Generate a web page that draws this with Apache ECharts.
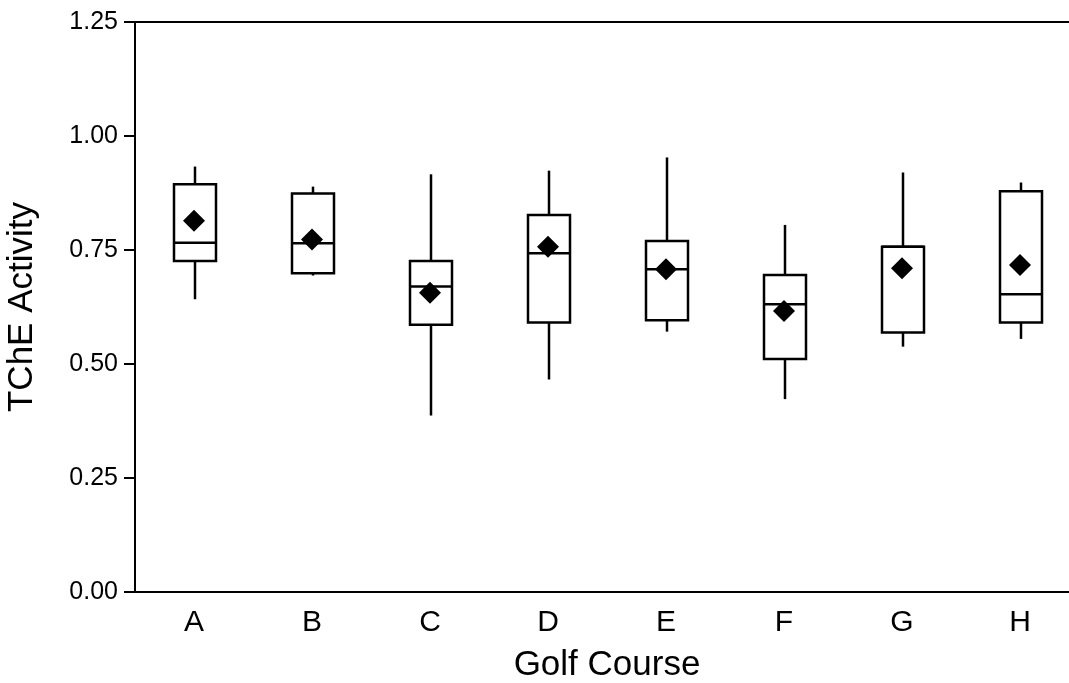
<!DOCTYPE html>
<html>
<head>
<meta charset="utf-8">
<style>
  html, body { margin: 0; padding: 0; background: #fff; }
  #chart { width: 1069px; height: 683px; }
</style>
<script src="https://cdn.jsdelivr.net/npm/echarts@6/dist/echarts.min.js"></script>
</head>
<body>
<div id="chart"></div>
<script>
// Golf course categories and TChE activity summary statistics
const categories   = ['A', 'B', 'C', 'D', 'E', 'F', 'G', 'H'];
const whiskerLow   = [0.642, 0.694, 0.387, 0.466, 0.571, 0.423, 0.538, 0.555];
const quartile1    = [0.726, 0.699, 0.586, 0.591, 0.596, 0.511, 0.569, 0.591];
const medians      = [0.766, 0.765, 0.670, 0.743, 0.708, 0.631, 0.757, 0.653];
const quartile3    = [0.894, 0.874, 0.726, 0.827, 0.770, 0.695, 0.757, 0.879];
const whiskerHigh  = [0.933, 0.889, 0.916, 0.924, 0.953, 0.805, 0.920, 0.898];
const means        = [0.814, 0.773, 0.656, 0.757, 0.708, 0.616, 0.710, 0.717];
const yTickValues  = [0, 0.25, 0.5, 0.75, 1.0, 1.25];

const boxData = categories.map((c, i) => [i, whiskerLow[i], quartile1[i], medians[i], quartile3[i], whiskerHigh[i]]);
const meanData = categories.map((c, i) => [i, means[i]]);

const FONT = 'Liberation Sans, Arial, Helvetica, sans-serif';
const INK = '#000';

function renderBox(params, api) {
  const x = api.value(0);
  const lo = api.coord([x, api.value(1)]);
  const b1 = api.coord([x, api.value(2)]);
  const md = api.coord([x, api.value(3)]);
  const b3 = api.coord([x, api.value(4)]);
  const hi = api.coord([x, api.value(5)]);
  const half = 21;
  const cx = Math.round(lo[0]) + 1;
  const style = { stroke: INK, lineWidth: 2.5, fill: null };
  return {
    type: 'group',
    children: [
      { type: 'line', shape: { x1: cx, y1: hi[1], x2: cx, y2: b3[1] }, style: style },
      { type: 'line', shape: { x1: cx, y1: b1[1], x2: cx, y2: lo[1] }, style: style },
      { type: 'rect', shape: { x: cx - half, y: b3[1], width: half * 2, height: b1[1] - b3[1] },
        style: { stroke: INK, lineWidth: 2.5, fill: '#fff' } },
      { type: 'line', shape: { x1: cx - half, y1: md[1], x2: cx + half, y2: md[1] }, style: style }
    ]
  };
}

const chart = echarts.init(document.getElementById('chart'), null, { renderer: 'canvas' });
chart.setOption({
  backgroundColor: '#fff',
  animation: false,
  grid: {
    left: 135, width: 944, top: 22, bottom: 91,
    containLabel: false,
    outerBoundsMode: 'none',
    show: true, borderColor: INK, borderWidth: 2, backgroundColor: 'transparent'
  },
  xAxis: {
    type: 'category',
    data: categories,
    boundaryGap: true,
    name: 'Golf Course',
    nameLocation: 'middle',
    nameGap: 56,
    nameTextStyle: { fontFamily: FONT, fontSize: 35, color: INK },
    axisLine: { lineStyle: { color: INK, width: 2 } },
    axisTick: { alignWithLabel: true, length: 8, lineStyle: { color: INK, width: 2 } },
    axisLabel: { fontFamily: FONT, fontSize: 30, color: INK, margin: 16 },
    splitLine: { show: false }
  },
  yAxis: {
    type: 'value',
    min: 0, max: 1.25, interval: 0.25,
    name: 'TChE Activity',
    nameLocation: 'middle',
    nameGap: 95,
    nameTextStyle: { fontFamily: FONT, fontSize: 35, color: INK },
    axisLine: { show: true, lineStyle: { color: INK, width: 2 } },
    axisTick: { show: true, length: 11, lineStyle: { color: INK, width: 2 } },
    axisLabel: {
      fontFamily: FONT, fontSize: 25, color: INK, margin: 17,
      formatter: v => {
        const t = yTickValues.find(y => Math.abs(y - v) < 1e-9);
        return t === undefined ? '' : t.toFixed(2);
      }
    },
    splitLine: { show: false }
  },
  series: [
    {
      type: 'custom',
      renderItem: renderBox,
      encode: { x: 0, y: [1, 2, 3, 4, 5] },
      data: boxData,
      z: 2
    },
    {
      type: 'scatter',
      data: meanData,
      symbol: 'diamond',
      symbolSize: [22, 22],
      itemStyle: { color: INK, opacity: 1 },
      z: 3
    }
  ]
});
</script>
</body>
</html>
